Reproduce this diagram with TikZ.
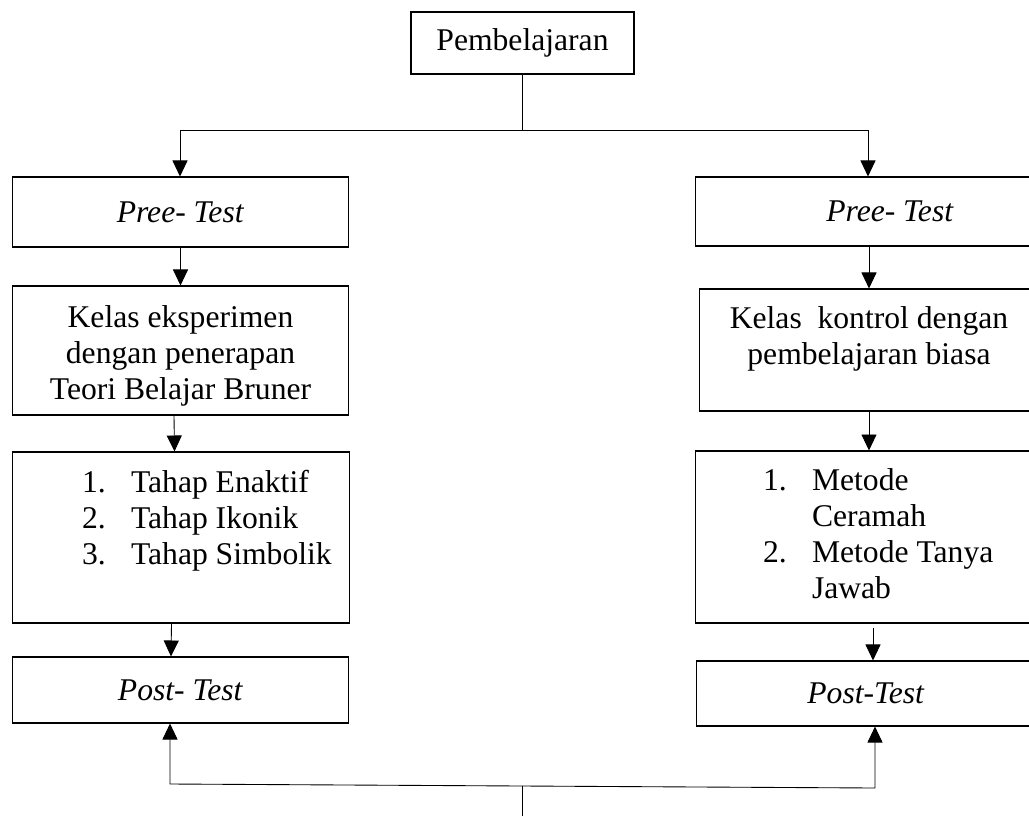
\documentclass[tikz,border=0pt]{standalone}
\usepackage{fontspec}
\setmainfont{Liberation Serif}
\usetikzlibrary{arrows.meta,positioning}
\tikzset{
    box/.style={draw,line width=0.6pt,inner sep=0pt,font=\fontsize{18}{20.6}\selectfont},
    arr/.style={-{Triangle[length=0.32cm,width=0.30cm]},line width=0.5pt},
}
\newcommand{\nomor}[1]{\makebox[0.98cm][l]{#1}}

\begin{document}
\begin{tikzpicture}[x=0.02cm,y=-0.02cm]
    \clip (0,0) rectangle (1029,816);

    \node[box] (Pembelajaran) at (522.5,43) {\parbox[c][1.24cm][c]{4.46cm}{\centering Pembelajaran}};

    \node[box] (PreeKiri) at (180.5,212) {\parbox[c][1.40cm][c]{6.74cm}{\centering\textit{Pree- Test}}};
    \node[box] (PreeKanan) at (890,211.5) {\parbox[c][1.38cm][c]{7.80cm}{\centering\textit{Pree- Test}}};

    \node[box] (Eksperimen) at (180.5,350.5) {\parbox[c][2.58cm][t]{6.74cm}{\centering\rule{0pt}{0.82cm}Kelas eksperimen\\
        dengan penerapan\\ Teori Belajar Bruner}};
    \node[box] (Kontrol) at (869,350) {\parbox[c][2.44cm][t]{6.80cm}{\centering\rule{0pt}{0.78cm}Kelas\ \ kontrol dengan\\
        pembelajaran biasa}};

    \node[box] (TahapBruner) at (181,537.5) {\parbox[c][3.42cm][t]{6.76cm}{\rule{0pt}{0.80cm}\hspace*{1.40cm}\nomor{1.}Tahap Enaktif\\
        \hspace*{1.40cm}\nomor{2.}Tahap Ikonik\\
        \hspace*{1.40cm}\nomor{3.}Tahap Simbolik}};
    \node[box] (MetodeBiasa) at (865,537) {\parbox[c][3.44cm][t]{6.80cm}{\rule{0pt}{0.78cm}\hspace*{1.36cm}\nomor{1.}Metode\\
        \hspace*{2.34cm}Ceramah\\
        \hspace*{1.36cm}\nomor{2.}Metode Tanya\\
        \hspace*{2.34cm}Jawab}};

    \node[box] (PostKiri) at (180.5,690) {\parbox[c][1.32cm][c]{6.74cm}{\centering\textit{Post- Test}}};
    \node[box] (PostKanan) at (866,693.5) {\parbox[c][1.30cm][c]{6.80cm}{\centering\textit{Post-Test}}};

    % cabang atas
    \coordinate (atasKiri) at (180,130);
    \coordinate (atasKanan) at (868,130);
    \coordinate (cabangAtas) at (Pembelajaran.south |- atasKiri);
    \draw[line width=0.5pt] (Pembelajaran.south) -- (cabangAtas);
    \draw[arr] (cabangAtas) -- (atasKiri) -- (atasKiri |- PreeKiri.north);
    \draw[arr] (cabangAtas) -- (atasKanan) -- (atasKanan |- PreeKanan.north);

    % kelas eksperimen
    \draw[arr] (PreeKiri.south) -- (Eksperimen.north);
    \draw[arr] ([xshift=-0.13cm]Eksperimen.south) -- ([xshift=-0.13cm]TahapBruner.north);
    \draw[arr] ([xshift=-0.19cm]TahapBruner.south) -- ([xshift=-0.19cm]PostKiri.north);

    % kelas kontrol
    \draw[arr] (PreeKanan.south -| Kontrol.north) -- (Kontrol.north);
    \draw[arr] (Kontrol.south) -- (Kontrol.south |- MetodeBiasa.north);
    \draw[arr] ([shift={(0.16cm,-0.08cm)}]MetodeBiasa.south) -- ([xshift=0.14cm]PostKanan.north);

    % cabang bawah
    \coordinate (bawah) at (522,816);
    \coordinate (cabangBawah) at (522,786);
    \coordinate (bawahKiri) at (170,784);
    \coordinate (bawahKanan) at (875,788);
    \draw[line width=0.5pt] (bawah) -- (cabangBawah);
    \draw[arr] (cabangBawah) -- (bawahKiri) -- (bawahKiri |- PostKiri.south);
    \draw[arr] (cabangBawah) -- (bawahKanan) -- (bawahKanan |- PostKanan.south);
\end{tikzpicture}
\end{document}
